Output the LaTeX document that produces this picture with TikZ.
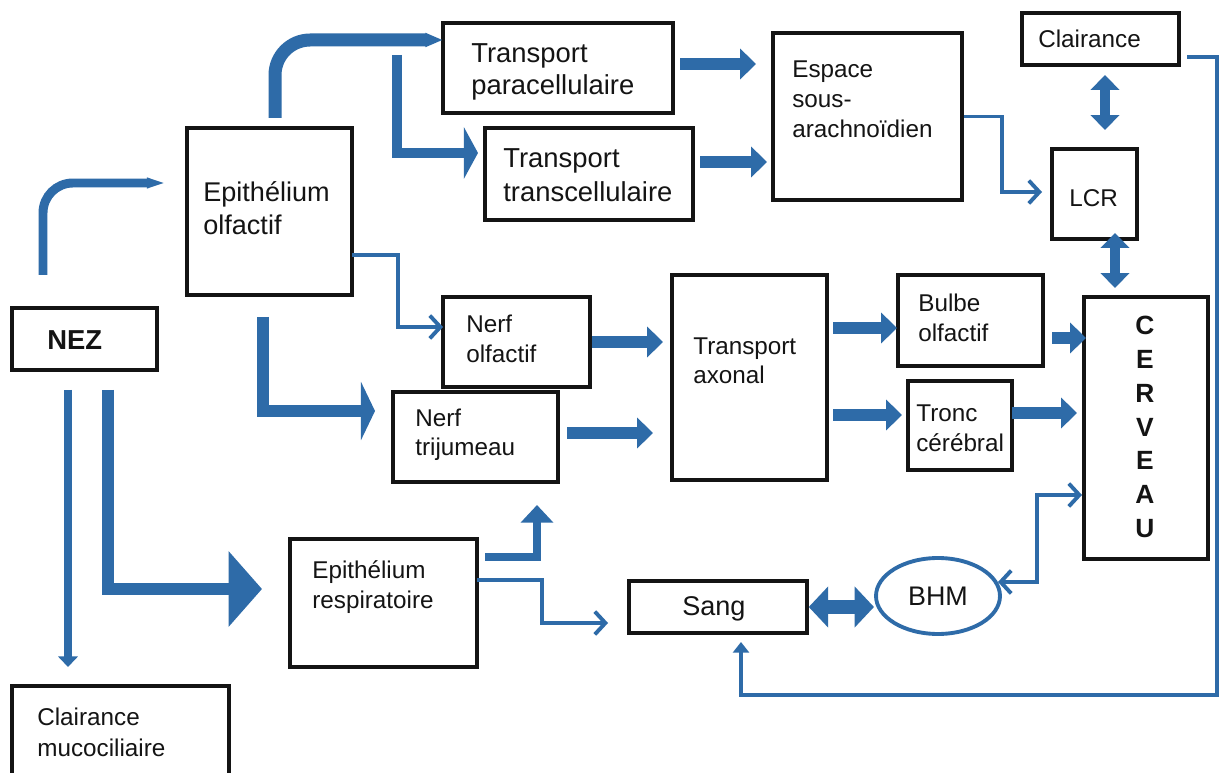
\documentclass[tikz,border=0pt]{standalone}
\usepackage{fontspec}
\setmainfont{Liberation Sans}
\usetikzlibrary{arrows.meta,calc,fit,shapes.geometric}
\definecolor{arr}{RGB}{46,107,168}
\newcommand{\vstack}[2]{\vtop{\baselineskip=#1\relax\halign{##\hfil\cr#2\crcr}}}
\newcommand{\cstack}[2]{\vtop{\baselineskip=#1\relax\halign{\hfil##\hfil\cr#2\crcr}}}
\tikzset{
  box/.style={draw=black!92, line width=2pt, inner sep=0pt, rectangle},
  txt/.style={anchor=base west, inner sep=0pt, text=black!92},
  fa/.style={font=\fontsize{13.8}{17}\selectfont},
  fb/.style={font=\fontsize{15.6}{18}\selectfont},
  thinarr/.style={draw=arr, line width=2.2pt, -{Straight Barb[length=6pt,width=13pt]}},
  thinboth/.style={draw=arr, line width=2.2pt, {Straight Barb[length=6pt,width=13pt]}-{Straight Barb[length=6pt,width=13pt]}},
  blk/.style={draw=arr, line width=7pt, -{Triangle[length=9pt,width=17pt]}},
  dbl/.style={draw=arr, line width=5.7pt, {Triangle[length=8.5pt,width=16pt]}-{Triangle[length=8.5pt,width=16pt]}},
  thick/.style={draw=arr, line join=miter},
}
\begin{document}
\begin{tikzpicture}[x=0.02cm,y=-0.02cm]
\useasboundingbox (0,0) rectangle (1221,773);
\clip (0,0) rectangle (1221,773);
\fill[white] (0,0) rectangle (1221,773);

% ---------- boxes ----------
\node[box, fit={(12,308)(157,370)}] (nez) {};
\node[box, fit={(187,128)(352,295)}] (epio) {};
\node[box, fit={(443,23)(673,113)}] (para) {};
\node[box, fit={(485,128)(693,220)}] (trans) {};
\node[box, fit={(773,33)(962,200)}] (espace) {};
\node[box, fit={(1022,13)(1179,65)}] (clair) {};
\node[box, fit={(1052,149)(1137,239)}] (lcr) {};
\node[box, fit={(443,297)(590,387)}] (nolf) {};
\node[box, fit={(393,392)(558,482)}] (ntri) {};
\node[box, fit={(672,275)(827,480)}] (tax) {};
\node[box, fit={(898,275)(1043,366)}] (bulbe) {};
\node[box, fit={(908,381)(1012,470)}] (tronc) {};
\node[box, fit={(1084,297)(1208,559)}] (cerv) {};
\node[box, fit={(290,539)(477,667)}] (epir) {};
\node[box, fit={(629,581)(807,633)}] (sang) {};
\node[box, fit={(12,686)(229,790)}] (cmuco) {};
\node[draw=arr, line width=2.2pt, ellipse, minimum width=2.48cm, minimum height=1.52cm, inner sep=0pt,
      text=black!92, font=\fontsize{15.3}{18}\selectfont] (bhm) at (938,596) {BHM};

% ---------- texts ----------
\node[txt, fb] (para-t) at (471,63) {\vstack{18.1pt}{Transport\cr paracellulaire}};
\node[txt, fb] (trans-t) at (503,168) {\vstack{19.3pt}{Transport\cr transcellulaire}};
\node[txt, fa] (esp-t) at (792,78) {\vstack{17pt}{Espace\cr sous-\cr arachnoïdien}};
\node[txt, fa] (clair-t) at (1038,48) {Clairance};
\node[txt, fa] (lcr-t) at (1069,207) {LCR};
\node[txt, font=\fontsize{15.4}{18}\selectfont] (epio-t) at (203,202) {\vstack{18.7pt}{Epithélium\cr olfactif}};
\node[txt, font=\bfseries\fontsize{15.6}{18}\selectfont] (nez-t) at (47,350) {NEZ};
\node[txt, fa] (nolf-t) at (466,333) {\vstack{17pt}{Nerf\cr olfactif}};
\node[txt, fa] (ntri-t) at (415,427) {\vstack{16pt}{Nerf\cr trijumeau}};
\node[txt, fa] (tax-t) at (693,355) {\vstack{16pt}{Transport\cr axonal}};
\node[txt, fa] (bulbe-t) at (918,312) {\vstack{17pt}{Bulbe\cr olfactif}};
\node[txt, fa] (tronc-t) at (916,422) {\vstack{17pt}{Tronc\cr cérébral}};
\node[txt, fa] (epir-t) at (312,579) {\vstack{17pt}{Epithélium\cr respiratoire}};
\node[txt, font=\fontsize{15.4}{18}\selectfont] (sang-t) at (682,615) {Sang};
\node[txt, fa] (cmuco-t) at (37,725) {\vstack{18pt}{Clairance\cr mucociliaire}};
\node[anchor=base, inner sep=0pt, text=black!92, font=\bfseries\fontsize{15}{19}\selectfont] (cerv-t) at (1145,335)
  {\cstack{19.2pt}{C\cr E\cr R\cr V\cr E\cr A\cr U}};

% ---------- connector end points ----------
\coordinate (a0) at (43,275);   \coordinate (a1) at (168,183);
\coordinate (b0) at (275,118);  \coordinate (b1) at (443,40);
\coordinate (c0) at (397,55);   \coordinate (c1) at (478,153);
\coordinate (d0) at (680,64);   \coordinate (d1) at (756,64);
\coordinate (e0) at (700,162);  \coordinate (e1) at (767,162);
\coordinate (f1) at (1042,192);
\coordinate (g0) at (1105,75);  \coordinate (g1) at (1105,130);
\coordinate (h0) at (1115,233); \coordinate (h1) at (1115,288);
\coordinate (i0) at (1187,57);  \coordinate (i1) at (741,695); \coordinate (i2) at (741,642);
\coordinate (j0) at (998,582);  \coordinate (j1) at (1082,495);
\coordinate (k1) at (874,607);
\coordinate (l0) at (352,255);  \coordinate (l1) at (443,327);
\coordinate (m0) at (263,317);  \coordinate (m1) at (375,411);
\coordinate (n1) at (663,342);
\coordinate (o0) at (567,433);  \coordinate (o1) at (653,433);
\coordinate (p0) at (833,328);  \coordinate (p1) at (897,328);
\coordinate (q0) at (833,415);  \coordinate (q1) at (902,415);
\coordinate (r0) at (1052,338); \coordinate (r1) at (1086,338);
\coordinate (s0) at (1012,413); \coordinate (s1) at (1077,413);
\coordinate (t0) at (485,557);  \coordinate (t1) at (537,505);
\coordinate (u0) at (477,580);  \coordinate (u1) at (608,623);
\coordinate (v0) at (108,390);  \coordinate (v1) at (262,589);
\coordinate (w0) at (68,390);   \coordinate (w1) at (68,667);

% ---------- connectors ----------
% NEZ -> Epithelium olfactif (tapered)
\draw[thick, line width=5.1pt, rounded corners=17pt, -{Triangle[length=12pt,width=0pt 1]}] (a0) |- (a1);
% Epithelium olfactif -> Transport paracellulaire (tapered)
\draw[thick, line width=7.4pt, rounded corners=20pt, -{Triangle[length=10pt,width=0pt 1]}] (b0) |- (b1);
% branch -> Transport transcellulaire
\draw[thick, line width=5.4pt, -{Triangle[length=8pt,width=29pt]}] (c0) |- (c1);
% transports -> espace
\draw[blk] (d0) -- (d1);
\draw[blk] (e0) -- (e1);
% espace -> LCR
\draw[thinarr] (espace.east) -- ++(38,0) |- (f1);
% Clairance <-> LCR <-> CERVEAU
\draw[dbl] (g0) -- (g1);
\draw[dbl] (h0) -- (h1);
% Clairance -> Sang (loop)
\draw[thick, line width=2.3pt, -{Triangle[length=6pt,width=9pt]}] (i0) -- ++(30,0) |- (i1) -- (i2);
% BHM <-> CERVEAU
\draw[thinboth] (j0) -- ++(39,0) |- (j1);
% Sang <-> BHM
\draw[thick, line width=7.4pt, {Triangle[length=11pt,width=22.7pt]}-{Triangle[length=11pt,width=22.7pt]}] (sang.east) -- (k1);
% Epithelium olfactif -> Nerf olfactif
\draw[thinarr] (l0) -- ++(46,0) |- (l1);
% Epithelium olfactif -> Nerf trijumeau
\draw[thick, line width=6.8pt, -{Triangle[length=8pt,width=33pt]}] (m0) |- (m1);
% nerves -> transport axonal
\draw[blk] (nolf.east) -- (n1);
\draw[blk] (o0) -- (o1);
% transport axonal -> bulbe / tronc
\draw[blk] (p0) -- (p1);
\draw[blk] (q0) -- (q1);
% bulbe / tronc -> cerveau
\draw[blk] (r0) -- (r1);
\draw[blk] (s0) -- (s1);
% Epithelium respiratoire -> Nerf trijumeau
\draw[thick, line width=4.5pt, -{Triangle[length=10pt,width=18pt]}] (t0) -| (t1);
% Epithelium respiratoire -> Sang
\draw[thinarr] (u0) -- ++(65,0) |- (u1);
% NEZ -> Epithelium respiratoire
\draw[thick, line width=7pt, -{Triangle[length=19pt,width=42pt]}] (v0) |- (v1);
% NEZ -> Clairance mucociliaire
\draw[thick, line width=5pt, -{Triangle[length=6pt,width=11pt]}] (w0) -- (w1);
\end{tikzpicture}
\end{document}
